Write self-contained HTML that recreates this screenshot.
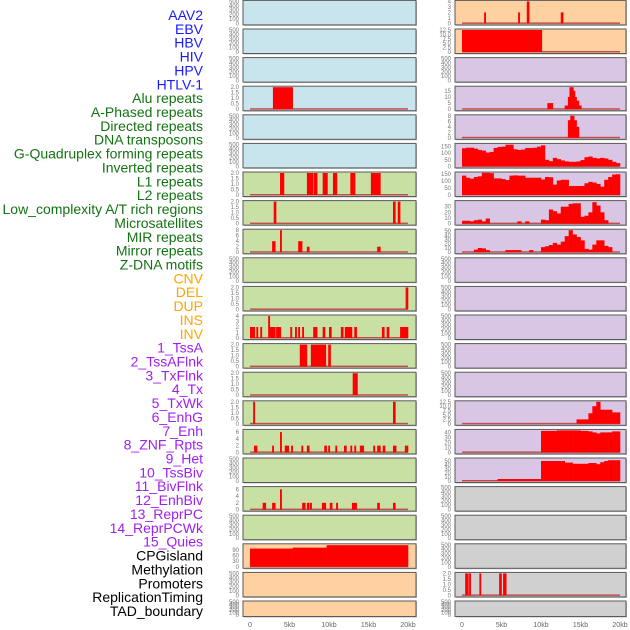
<!DOCTYPE html>
<html><head><meta charset="utf-8"><style>
html,body{margin:0;padding:0;background:#fff;}
svg{display:block;}
</style></head><body>
<svg id="chart" width="630" height="630" xmlns="http://www.w3.org/2000/svg" font-family="Liberation Sans, sans-serif"></svg>
<script>
const labels = ["AAV2","EBV","HBV","HIV","HPV","HTLV-1","Alu repeats","A-Phased repeats","Directed repeats","DNA transposons","G-Quadruplex forming repeats","Inverted repeats","L1 repeats","L2 repeats","Low_complexity A/T rich regions","Microsatellites","MIR repeats","Mirror repeats","Z-DNA motifs","CNV","DEL","DUP","INS","INV","1_TssA","2_TssAFlnk","3_TxFlnk","4_Tx","5_TxWk","6_EnhG","7_Enh","8_ZNF_Rpts","9_Het","10_TssBiv","11_BivFlnk","12_EnhBiv","13_ReprPC","14_ReprPCWk","15_Quies","CPGisland","Methylation","Promoters","ReplicationTiming","TAD_boundary"];
const groups = ["v","v","v","v","v","v","r","r","r","r","r","r","r","r","r","r","r","r","r","s","s","s","s","s","c","c","c","c","c","c","c","c","c","c","c","c","c","c","c","o","o","o","o","o"];
const yMax = [500,500,500,2,500,500,2,2,8,500,2,4,2,2,2,6.5,500,6.5,500,117,500,500,4,12.5,500,18,8,167,159,39,52,500,500,500,500,500,12.5,44,55,500,500,500,2,500];
const ticksEmpty = [0,100,200,300,400,500];
const ticks2 = [0,0.5,1,1.5,2];
const tickSets = {3:ticks2,6:ticks2,7:ticks2,8:[0,2,4,6,8],10:ticks2,11:[0,1,2,3,4],12:ticks2,13:ticks2,14:ticks2,15:[0,2,4,6],17:[0,2,4,6],19:[0,30,60,90],22:[0,1,2,3,4],23:[0,2.5,5,7.5,10,12.5],25:[0,5,10,15],26:[0,2,4,6,8],27:[0,50,100,150],28:[0,50,100,150],29:[0,10,20,30],30:[0,10,20,30,40,50],36:[0,2.5,5,7.5,10,12.5],37:[0,10,20,30,40],38:[0,10,20,30,40,50],42:ticks2};
const segments = {
 3:[[2.9,5.4,2]],
 6:[[3.8,4.3,2],[7.2,8.0,2],[8.1,8.5,2],[9.2,9.8,2],[10.5,11.0,2],[12.7,13.3,2],[15.3,16.5,2]],
 7:[[3.0,3.3,2],[18.1,18.4,2],[18.7,19.0,2]],
 8:[[2.8,3.2,4],[3.8,4.0,8],[6.1,6.6,4],[7.2,7.5,2],[16.1,16.5,2]],
 10:[[19.7,20.0,2]],
 11:[[0,0.6,2],[0.8,1.0,2],[1.3,1.5,2],[2.3,2.5,4],[2.5,3.2,2],[3.3,3.9,2],[5.1,5.3,2],[5.7,5.9,2],[6.1,6.3,2],[6.6,6.8,2],[8.0,8.5,2],[9.2,9.5,2],[10.0,10.3,2],[11.5,11.8,2],[12.0,12.9,2],[13.2,13.5,2],[16.7,17.0,2],[17.3,17.6,2],[19.0,20.0,2]],
 12:[[6.3,7.2,2],[7.7,9.6,2],[9.9,10.2,2]],
 13:[[13.0,13.6,2]],
 14:[[0.4,0.6,2],[18.1,18.4,2]],
 15:[[0.5,0.9,2],[2.8,3.0,2],[3.8,4.0,6],[4.4,4.9,2],[5.2,5.4,2],[6.5,6.7,2],[7.2,7.5,2],[9.4,9.7,2],[9.9,10.1,2],[10.8,11.0,2],[11.9,12.2,2],[12.7,12.9,2],[13.2,13.4,2],[13.9,14.4,2],[15.6,15.8,2],[16.1,16.5,2],[16.8,17.1,2],[18.1,18.5,2],[19.6,20.0,2]],
 17:[[1.6,2.0,2],[2.8,3.2,2],[3.8,4.0,6],[6.6,7.0,2],[7.2,7.5,2],[7.6,7.8,2],[9.1,9.6,2],[10.1,10.4,2],[10.9,11.1,2],[12.9,13.5,2],[16.1,16.4,2],[18.1,18.4,2]],
 19:[[0,5.4,97],[5.4,9.7,102],[9.7,20,115]],
 22:[[2.8,3.0,2],[7.1,7.3,2],[8.2,8.5,4],[12.5,12.8,2]],
 23:[[0,10.1,12.5]],
 25:[[10.8,11.5,5],[13.0,13.4,3],[13.4,13.6,10],[13.6,14.1,18],[14.1,14.3,15],[14.3,14.5,10],[14.5,14.8,7],[14.8,15.1,3]],
 26:[[13.4,13.7,6.4],[13.7,14.2,8],[14.2,14.5,6.4],[14.5,14.8,4]],
 42:[[0.4,0.8,2],[0.9,1.1,2],[2.2,2.4,2],[4.7,5.0,2],[5.2,5.6,2]]
};
const bins = {
 27:[138,142,142,135,125,120,105,110,140,148,150,165,165,130,125,128,140,140,142,150,160,50,40,65,55,45,38,35,35,38,48,70,75,65,60,65,60,50,35,25],
 28:[140,125,118,130,135,160,160,158,120,120,115,108,140,142,140,140,125,125,125,125,112,130,128,75,105,110,110,65,65,65,65,85,95,90,80,60,110,130,148,150],
 29:[5,5,4,6,7,4,9,0,0,0,0,0,0,0,4,0,4,0,0,0,7,6,25,22,18,30,30,35,36,36,12,14,20,38,32,20,6,0,0,0],
 30:[0,0,0,6,10,9,5,0,0,0,0,5,5,5,5,0,0,5,0,0,12,14,17,22,18,25,38,52,42,36,28,8,6,18,28,28,15,12,0,0],
 36:[0,0,0,0,0,0,0,0,0,0,0,0,0,0,0,0,0,0,0,0,0,0,0,0,0,0,0,0,0,2.5,2.5,2.5,6,10,12.5,8,8,8,6.5,6.5],
 37:[0,0,0,0,0,0,0,0,0,0,0,0,0,0,0,0,0,0,0,0,43,43,43,43,44,44,44,44,44,44,43,43,42,40,38,40,40,40,42,42],
 38:[0.5,0.5,0.5,0.5,0.5,0.5,0.5,0.5,0.5,5,5,5,5,5,5,5,5,5,5,5,50,50,50,50,50,50,46,46,43,43,43,43,45,45,42,47,50,52,52,52]
};
const xTickVals = [0,5,10,15,20];
const xTickLabels = ["0","5kb","10kb","15kb","20kb"];

const NS = "http://www.w3.org/2000/svg";
const svg = document.getElementById("chart");
const bg = {v:"#c8e4ec",r:"#c8e0a4",s:"#ffd0a0",c:"#d8c6e4",o:"#d0d0d0"};
const fg = {v:"#1a1aff",r:"#137313",s:"#ffa500",c:"#a020f0",o:"#000000"};
function mk(tag, attrs, parent){const e=document.createElementNS(NS,tag);for(const k in attrs)e.setAttribute(k,attrs[k]);(parent||svg).appendChild(e);return e;}
const colBox = [[243,416],[455,626]];
const colX0 = [250,462];
const PXKB = 7.9;
function xScale(col, kb){return colX0[col]+kb*PXKB;}

labels.forEach((name,i)=>{
  const t = mk("text",{x:203,y:20+13.86*i,"text-anchor":"end","font-size":"14",fill:fg[groups[i]]});
  t.textContent = name;
  
  
});

labels.forEach((name,i)=>{
  const col = i<22?0:1, row = i%22;
  const top = 0.4+28.6*row;
  const h = row===21?15.5:24.5;
  const g = mk("g",{});
  
  
  const [bx0,bx1] = colBox[col];
  mk("rect",{x:bx0+1,y:top+1,width:bx1-bx0,height:h,fill:"#bbb"},g);
  mk("rect",{x:bx0,y:top,width:bx1-bx0,height:h,fill:bg[groups[i]],stroke:"#5a5a5a","stroke-width":"1"},g);
  const yTop = top+1, yBot = top+h-1.5;
  const ym = yMax[i];
  const yS = v => yBot-(v/ym)*(yBot-yTop);
  const tv = tickSets[i]||ticksEmpty;
  tv.forEach(v=>{
    const t = mk("text",{x:bx0-4,y:yS(v)+2,"text-anchor":"end","font-size":"6",fill:"#777"},g);
    t.textContent = String(v===0?"0":(tv===ticks2||i===23||i===36? v.toFixed(1):v));
  });
  let segs = segments[i]||[];
  if(bins[i]){segs = bins[i].map((v,k)=>[k*0.5,(k+1)*0.5,v]).filter(s=>s[2]>0);}
  const hasData = segs.length>0;
  if(hasData){
    mk("rect",{x:xScale(col,0),y:yBot-1,width:xScale(col,20)-xScale(col,0),height:1.5,fill:"#c05050"},g);
  }
  segs.forEach(s=>{
    const x0 = xScale(col,s[0]), x1 = xScale(col,s[1]);
    const r = mk("rect",{x:x0,y:yS(s[2]),width:Math.max(1.5,x1-x0+0.3),height:yBot-yS(s[2]),fill:"#ff0000"},g);
    
    
  });
});

[0,1].forEach(col=>{
  xTickVals.forEach((v,k)=>{
    const t = mk("text",{x:xScale(col,v),y:627,"text-anchor":"middle","font-size":"7",fill:"#666"});
    t.textContent = xTickLabels[k];
    
    
  });
});
</script>
</body></html>
